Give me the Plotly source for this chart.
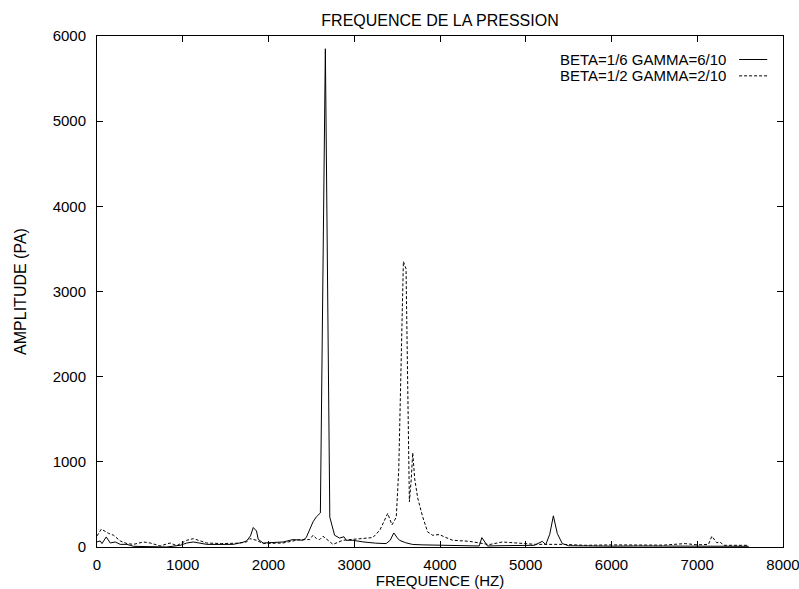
import plotly.graph_objs as go

# BETA=1/6 GAMMA=6/10 (solid)
freq_1 = [0, 38, 58, 108, 155, 213, 271, 349, 426, 550, 700, 814, 969, 1047, 1124,
          1200, 1279, 1400, 1589, 1700, 1744, 1790, 1822, 1860, 1880, 1938, 2050,
          2170, 2286, 2402, 2440, 2480, 2519, 2558, 2588, 2605, 2663, 2715, 2771,
          2829, 2880, 2907, 2984, 3100, 3250, 3372, 3420, 3461, 3500, 3527, 3600,
          3680, 3800, 3992, 4200, 4457, 4488, 4554, 4700, 4900, 5100, 5194, 5233,
          5280, 5322, 5368, 5426, 5500, 5700, 6000, 6300, 6600, 6900, 7200, 7600]
amp_1 = [60, 71, 40, 118, 47, 59, 31, 31, 8, 5, 3, 0, 20, 47, 59,
         45, 31, 30, 31, 55, 71, 130, 229, 188, 90, 47, 50,
         59, 87, 79, 110, 197, 295, 354, 390, 400, 5850, 350, 138,
         105, 120, 79, 79, 60, 45, 40, 80, 165, 110, 79, 50,
         30, 25, 20, 15, 12, 110, 12, 15, 18, 20, 67, 27,
         150, 366, 158, 40, 15, 12, 10, 12, 10, 12, 10, 8]

# BETA=1/2 GAMMA=2/10 (dashed)
freq_2 = [0, 50, 135, 193, 271, 349, 426, 542, 620, 736, 852, 930, 1047, 1124,
          1279, 1450, 1650, 1744, 1783, 1860, 1938, 2170, 2364, 2480, 2519, 2558,
          2597, 2635, 2694, 2752, 2868, 3062, 3217, 3300, 3390, 3440, 3490, 3519,
          3545, 3573, 3604, 3625, 3643, 3665, 3682, 3705, 3740, 3798, 3830, 3856,
          3914, 3992, 4070, 4147, 4341, 4438, 4573, 4728, 4922, 5116, 5426, 5698,
          6000, 6300, 6600, 6860, 7000, 7131, 7170, 7228, 7267, 7306, 7450, 7600]
amp_2 = [130, 210, 160, 138, 71, 40, 31, 59, 47, 12, 47, 16, 79, 98,
         47, 40, 45, 59, 98, 79, 40, 47, 87, 87, 138, 100,
         87, 126, 79, 31, 79, 98, 111, 200, 394, 260, 350, 906,
         2200, 3353, 3267, 2000, 531, 800, 1106, 800, 575, 354, 250, 177,
         138, 146, 111, 79, 67, 47, 28, 59, 47, 31, 31, 20,
         25, 20, 22, 40, 25, 31, 126, 50, 59, 20, 22, 20]

font = dict(family='Liberation Sans, Arial, sans-serif', size=16, color='black')
tick_font = dict(font, size=15)
legend_font = dict(font, size=15)

data = [
    go.Scatter(x=freq_1, y=amp_1, mode='lines', name='BETA=1/6 GAMMA=6/10',
               line=dict(color='black', width=1)),
    go.Scatter(x=freq_2, y=amp_2, mode='lines', name='BETA=1/2 GAMMA=2/10',
               line=dict(color='black', width=1, dash='3px,2px')),
]

axis = dict(
    showline=True, linecolor='black', linewidth=1, mirror='allticks',
    ticks='inside', ticklen=6, tickcolor='black', showgrid=False,
    zeroline=False, tickfont=tick_font, dtick=1000, automargin=False,
    ticklabeloverflow='allow',
)

layout = go.Layout(
    width=799, height=589,
    paper_bgcolor='white', plot_bgcolor='white',
    font=font,
    showlegend=False,
    margin=dict(l=97, r=16, t=36, b=42),
    title=dict(text='FREQUENCE DE LA PRESSION', x=0.5, xref='paper', xanchor='center',
               y=0.966, yanchor='middle', font=font),
    xaxis=dict(axis, range=[0, 8000], ticklabelstandoff=4,
               title=dict(text='FREQUENCE (HZ)', font=dict(font, size=15), standoff=1)),
    yaxis=dict(axis, range=[0, 6000], ticklabelstandoff=7,
               title=dict(text='AMPLITUDE (PA)', font=font, standoff=22)),
    annotations=[
        dict(xref='paper', yref='paper', x=0.92, y=0.954, text='BETA=1/6 GAMMA=6/10',
             showarrow=False, xanchor='right', yanchor='middle', font=legend_font),
        dict(xref='paper', yref='paper', x=0.92, y=0.922, text='BETA=1/2 GAMMA=2/10',
             showarrow=False, xanchor='right', yanchor='middle', font=legend_font),
    ],
    shapes=[
        dict(type='line', xref='paper', yref='paper', x0=0.936, x1=0.977,
             y0=0.954, y1=0.954, line=dict(color='black', width=1)),
        dict(type='line', xref='paper', yref='paper', x0=0.936, x1=0.977,
             y0=0.922, y1=0.922, line=dict(color='black', width=1, dash='3px,2px')),
    ],
)

fig = go.Figure(data=data, layout=layout)
# drop the default page margin so the figure fills the window
fig.write_html('out.html', config={'displayModeBar': False},
               post_script="document.body.style.margin='0';")
